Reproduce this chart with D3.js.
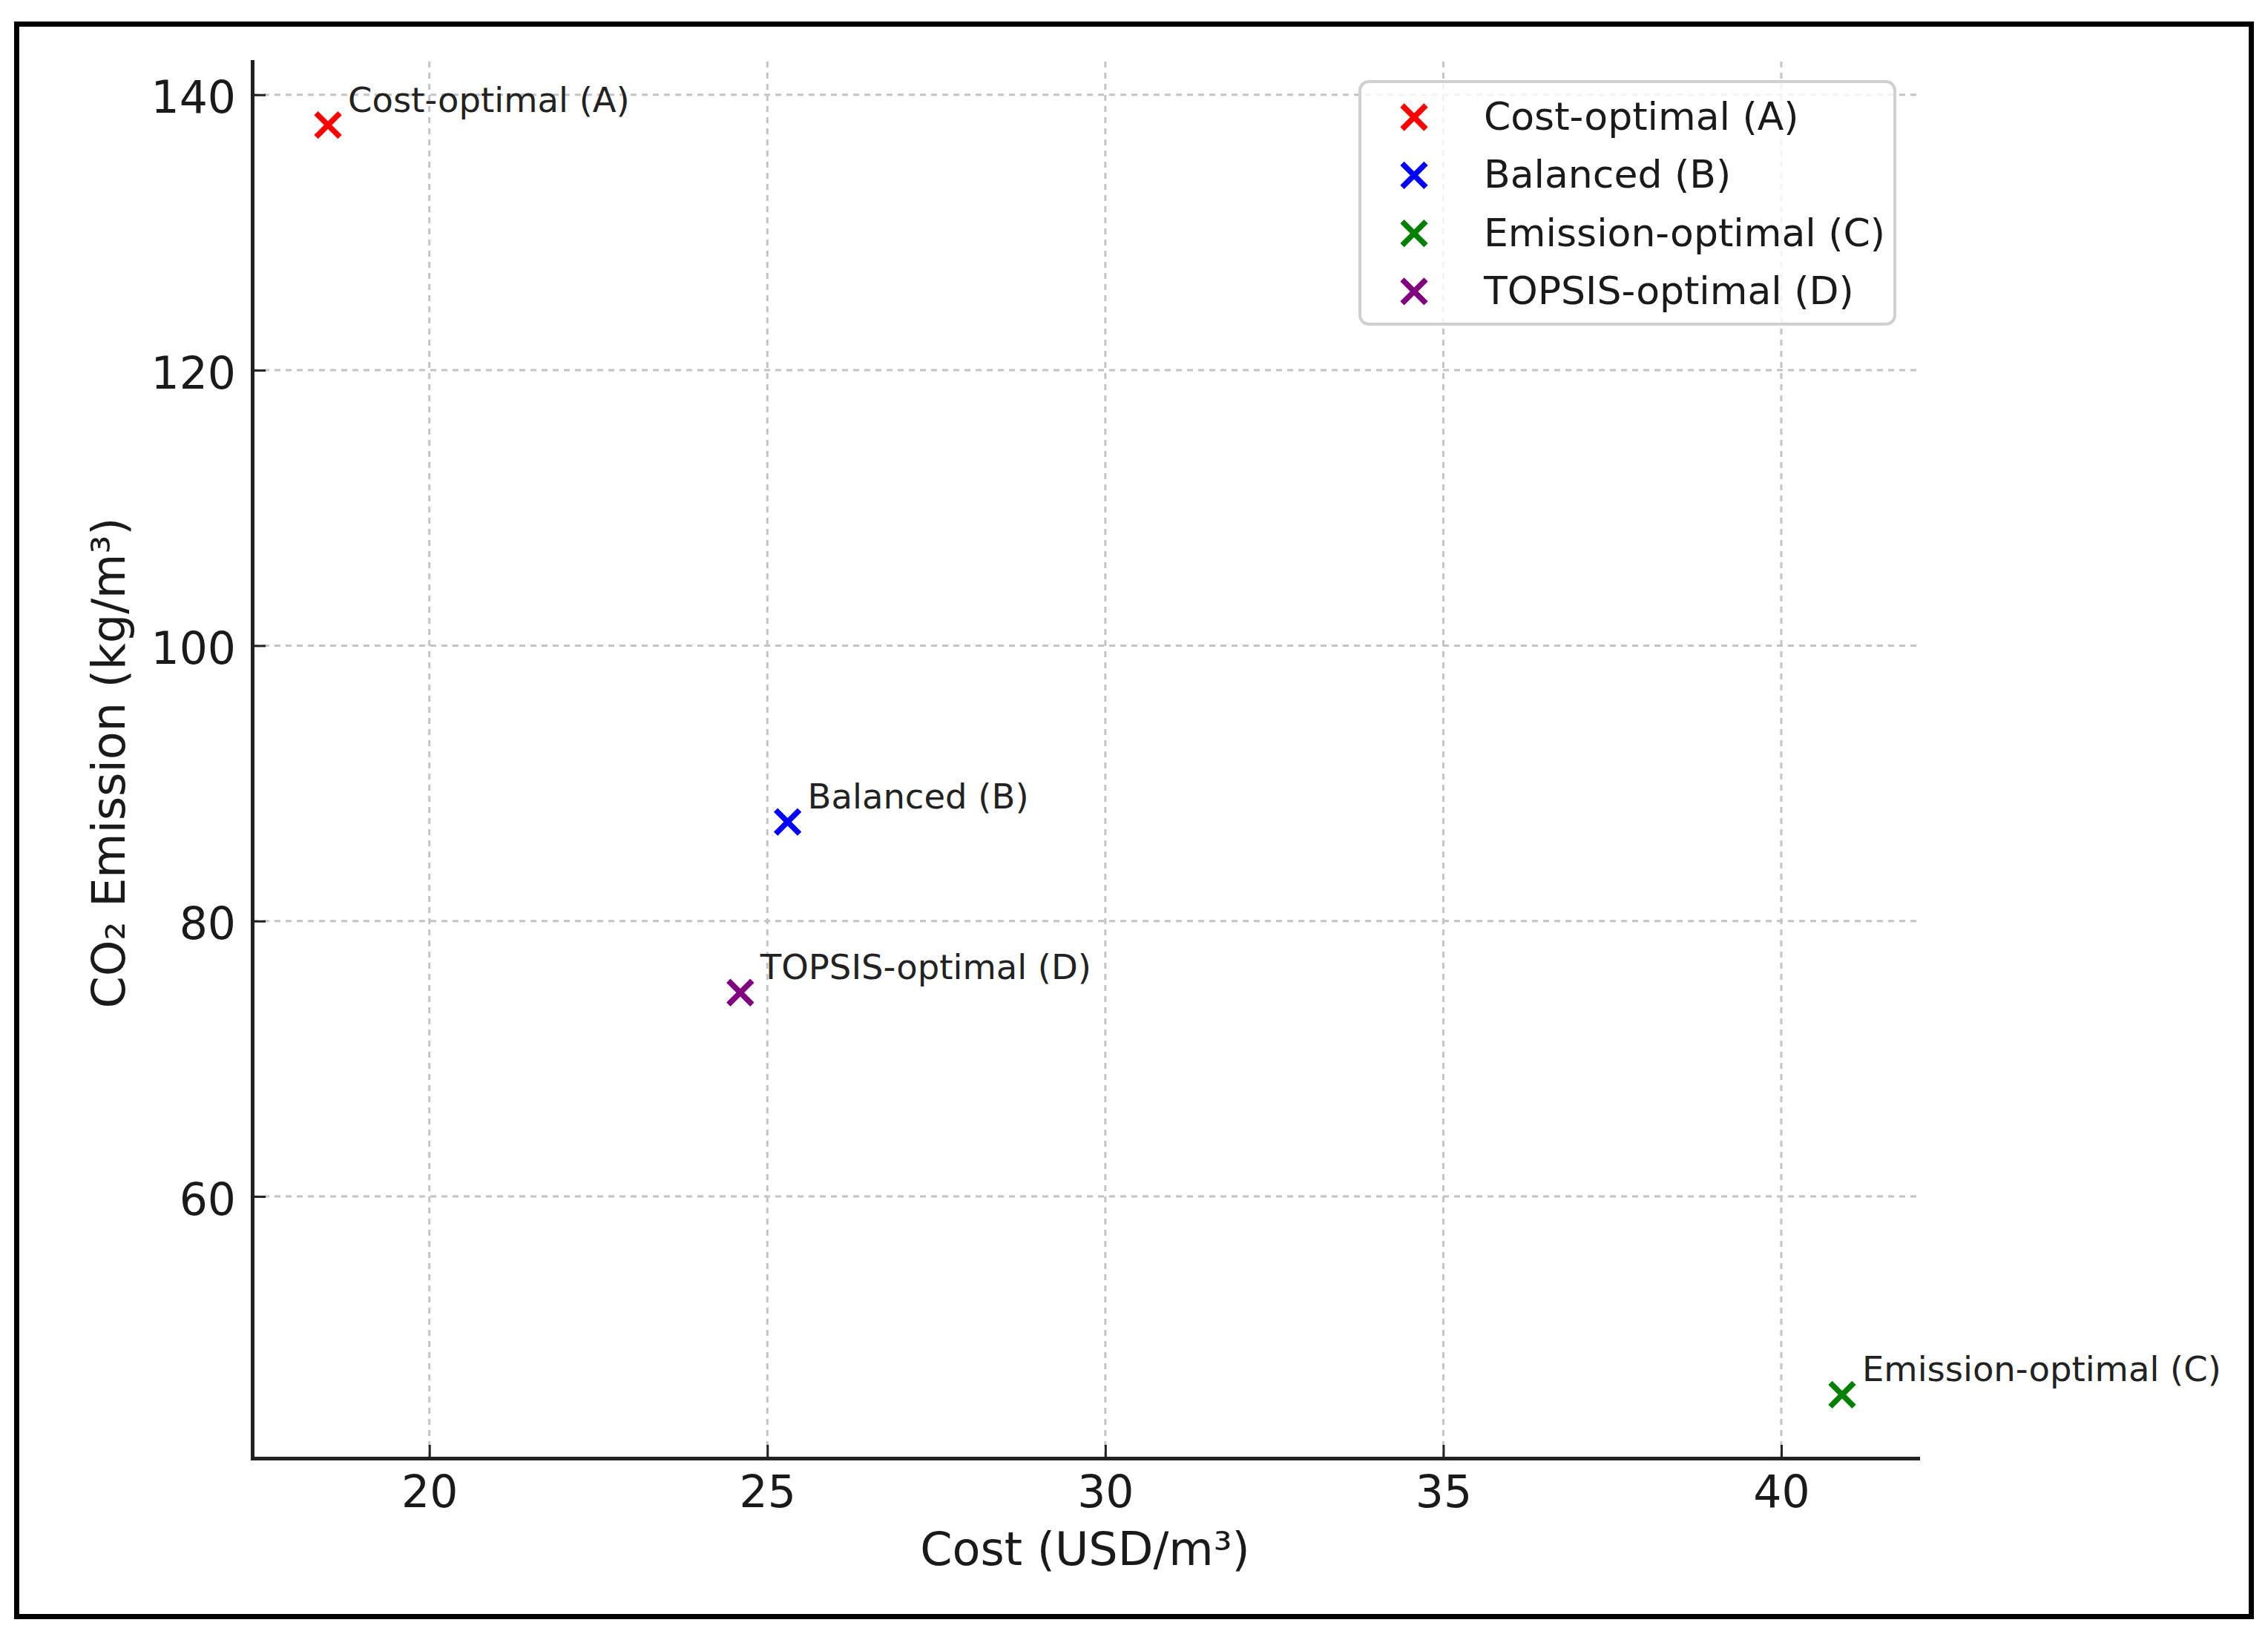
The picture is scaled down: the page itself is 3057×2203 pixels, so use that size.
<!DOCTYPE html>
<html>
<head>
<meta charset="utf-8">
<script src="https://cdn.jsdelivr.net/npm/d3@7"></script>
<style>
  body { margin: 0; background: #fff; }
  svg { display: block; font-family: "DejaVu Sans", sans-serif; }
</style>
</head>
<body>
<div id="chart"></div>
<script>
// values
const solutions = ['Cost-optimal (A)', 'Balanced (B)', 'Emission-optimal (C)', 'TOPSIS-optimal (D)'];
const costValues = [18.5, 25.3, 40.9, 24.6];
const emissionValues = [137.8, 87.2, 45.6, 74.8];
const pointColors = ['#ff0000', '#0000ff', '#008000', '#800080'];

const xTicks = [20, 25, 30, 35, 40];
const yTicks = [60, 80, 100, 120, 140];

const xLabel = 'Cost (USD/m³)';
const yLabel = 'CO₂ Emission (kg/m³)';

const points = solutions.map((name, i) => ({
  name,
  cost: costValues[i],
  emission: emissionValues[i],
  color: pointColors[i],
}));

function padded(values) {
  // same 5% margin matplotlib puts round the data
  const [lo, hi] = d3.extent(values);
  const m = (hi - lo) * 0.05;
  return [lo - m, hi + m];
}

function createScatterplot() {
  const width = 3057;
  const height = 2203;
  const area = { left: 340, right: 2585, top: 83, bottom: 1966 };

  const svg = d3.select('#chart')
    .append('svg')
    .attr('width', width)
    .attr('height', height);

  svg.append('rect')
    .attr('x', 22.5).attr('y', 32.5)
    .attr('width', 3012).attr('height', 2147)
    .attr('fill', 'none')
    .attr('stroke', '#000')
    .attr('stroke-width', 7);

  const xScale = d3.scaleLinear().domain(padded(costValues)).range([area.left, area.right]);
  const yScale = d3.scaleLinear().domain(padded(emissionValues)).range([area.bottom, area.top]);

  // gridlines
  const grid = svg.append('g').attr('class', 'grid')
    .attr('stroke', '#c4c4c4')
    .attr('stroke-width', 3)
    .attr('stroke-dasharray', '8,7');

  grid.selectAll('.gx')
    .data(xTicks)
    .join('line')
    .attr('x1', d => xScale(d)).attr('x2', d => xScale(d))
    .attr('y1', area.top).attr('y2', area.bottom);

  grid.selectAll('.gy')
    .data(yTicks)
    .join('line')
    .attr('y1', d => yScale(d)).attr('y2', d => yScale(d))
    .attr('x1', area.left).attr('x2', area.right);

  // axes, ticks pointing inwards
  const xAxis = d3.axisBottom(xScale).tickValues(xTicks).tickSizeInner(-18).tickSizeOuter(0).tickPadding(0);
  const yAxis = d3.axisLeft(yScale).tickValues(yTicks).tickSizeInner(-18).tickSizeOuter(0).tickPadding(0);

  const gx = svg.append('g')
    .attr('transform', `translate(0, ${area.bottom})`)
    .call(xAxis);
  const gy = svg.append('g')
    .attr('transform', `translate(${area.left}, 0)`)
    .call(yAxis);

  [gx, gy].forEach(g => {
    g.select('.domain').attr('stroke', '#222').attr('stroke-width', 5).attr('stroke-linecap', 'square');
    g.selectAll('.tick line').attr('stroke', '#222').attr('stroke-width', 3);
    g.selectAll('.tick text')
      .attr('fill', '#1a1a1a')
      .style('font-size', '60px')
      .style('font-family', '"DejaVu Sans", sans-serif');
  });

  gx.selectAll('.tick text').attr('y', 66).attr('dy', null);
  gy.selectAll('.tick text').attr('x', -22).attr('dy', null).attr('y', 24);

  svg.append('text')
    .attr('x', (area.left + area.right) / 2)
    .attr('y', 2110)
    .attr('text-anchor', 'middle')
    .attr('fill', '#1a1a1a')
    .style('font-size', '62px')
    .text(xLabel);

  svg.append('text')
    .attr('transform', `translate(168, ${(area.top + area.bottom) / 2 + 4}) rotate(-90)`)
    .attr('text-anchor', 'middle')
    .attr('fill', '#1a1a1a')
    .style('font-size', '62px')
    .text(yLabel);

  const cross = 'M-16,-16L16,16M16,-16L-16,16';

  // points and their labels
  const dots = svg.append('g').attr('class', 'dots');
  dots.selectAll('path')
    .data(points)
    .join('path')
    .attr('d', cross)
    .attr('transform', d => `translate(${xScale(d.cost)}, ${yScale(d.emission)})`)
    .attr('fill', 'none')
    .attr('stroke', d => d.color)
    .attr('stroke-width', 7.5);

  dots.selectAll('text')
    .data(points)
    .join('text')
    .attr('x', d => xScale(d.cost) + 27)
    .attr('y', d => yScale(d.emission) - 18)
    .attr('fill', '#222')
    .style('font-size', '46.5px')
    .text(d => d.name);

  // legend
  const legend = svg.append('g').attr('class', 'legend');
  legend.append('rect')
    .attr('x', 1833).attr('y', 110)
    .attr('width', 721).attr('height', 327)
    .attr('rx', 12)
    .attr('fill', '#fff')
    .attr('fill-opacity', 0.8)
    .attr('stroke', '#d0d0d0')
    .attr('stroke-width', 4);

  const rows = legend.selectAll('g')
    .data(points)
    .join('g')
    .attr('transform', (d, i) => `translate(1906, ${158 + i * 78.3})`);

  rows.append('path')
    .attr('d', cross)
    .attr('fill', 'none')
    .attr('stroke', d => d.color)
    .attr('stroke-width', 7.5);

  rows.append('text')
    .attr('x', 94)
    .attr('y', 17)
    .attr('fill', '#1a1a1a')
    .style('font-size', '52px')
    .text(d => d.name);
}

createScatterplot();
</script>
</body>
</html>
